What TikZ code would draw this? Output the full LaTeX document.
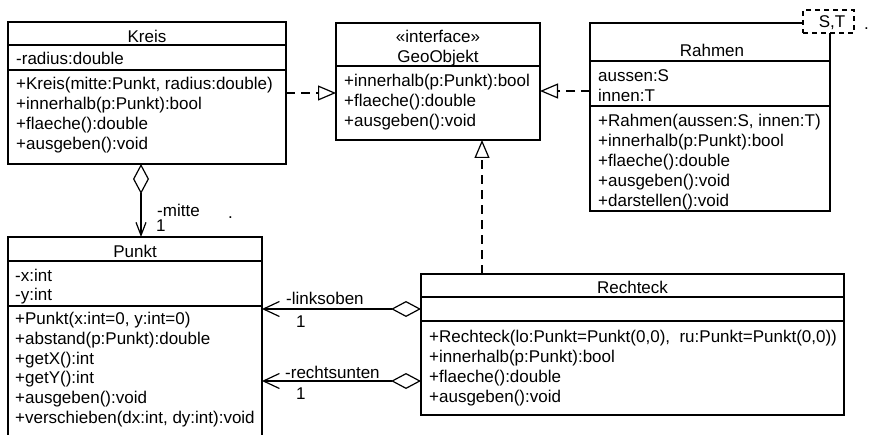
\documentclass[tikz,border=0pt]{standalone}
\usepackage{fontspec}
\setmainfont{Liberation Sans}
\usetikzlibrary{arrows.meta}
\newcommand\fsz{\fontsize{17}{20}\selectfont}
\begin{document}
\begin{tikzpicture}[x=1pt,y=-1pt,
  box/.style={draw, line width=1.2pt, inner sep=0pt, outer sep=0pt, anchor=north west},
  sepline/.style={line width=1.2pt},
  txt/.style={anchor=base west, inner sep=0pt, font=\fsz},
  ttl/.style={anchor=base, inner sep=0pt, font=\fsz},
  real/.style={line width=1.2pt, dash pattern=on 9pt off 6pt, -{Triangle[open,length=18pt,width=15pt]}},
  aggr/.style={line width=1.2pt, {Diamond[open,length=30pt,width=16pt]}-{Straight Barb[length=#1]}},
]
\useasboundingbox (0,0) rectangle (869,435);

% ---------- Kreis ----------
\node[box, minimum width=278pt, minimum height=142pt] (kreis) at (8,22) {};
\draw[sepline] (8,45) -- (286,45);
\draw[sepline] (8,70) -- (286,70);
\node[ttl] (k0) at (147,43) {Kreis};
\node[txt] (k1) at (16,65) {-radius:double};
\node[txt] (k2) at (16,90) {+Kreis(mitte:Punkt, radius:double)};
\node[txt] (k3) at (16,110) {+innerhalb(p:Punkt):bool};
\node[txt] (k4) at (16,130) {+flaeche():double};
\node[txt] (k5) at (16,150) {+ausgeben():void};

% ---------- GeoObjekt ----------
\node[box, minimum width=204pt, minimum height=117pt] (geo) at (336,23) {};
\draw[sepline] (336,66) -- (540,66);
\node[ttl] (g0) at (438,43) {«interface»};
\node[ttl] (g1) at (438,62.5) {GeoObjekt};
\node[txt] (g2) at (344,87) {+innerhalb(p:Punkt):bool};
\node[txt] (g3) at (344,107) {+flaeche():double};
\node[txt] (g4) at (344,127) {+ausgeben():void};

% ---------- Rahmen ----------
\node[box, minimum width=240pt, minimum height=188pt] (rahmen) at (590,23) {};
\draw[sepline] (590,61) -- (830,61);
\draw[sepline] (590,106) -- (830,106);
\node[ttl] (r0) at (712,57) {Rahmen};
\node[txt] (r1) at (598,82) {aussen:S};
\node[txt] (r2) at (598,102) {innen:T};
\node[txt] (r3) at (598,126.5) {+Rahmen(aussen:S, innen:T)};
\node[txt] (r4) at (598,146.5) {+innerhalb(p:Punkt):bool};
\node[txt] (r5) at (598,166.5) {+flaeche():double};
\node[txt] (r6) at (598,186.5) {+ausgeben():void};
\node[txt] (r7) at (598,206.5) {+darstellen():void};
\node[draw, line width=1.2pt, dash pattern=on 5pt off 4pt, fill=white, inner sep=0pt,
      minimum width=51pt, minimum height=23pt] (tpl) at (828.5,21.5) {};
\node[ttl] (tplt) at (832,28) {S,T};
\node[txt] (dot1) at (864,30) {.};

% ---------- Rechteck ----------
\node[box, minimum width=423pt, minimum height=141pt] (rechteck) at (421,274) {};
\draw[sepline] (421,297) -- (844,297);
\draw[sepline] (421,321) -- (844,321);
\node[ttl] (e0) at (632.5,293.5) {Rechteck};
\node[txt] (e1) at (429,342.5) {+Rechteck(lo:Punkt=Punkt(0,0),\ \ ru:Punkt=Punkt(0,0))};
\node[txt] (e2) at (429,362.5) {+innerhalb(p:Punkt):bool};
\node[txt] (e3) at (429,382.5) {+flaeche():double};
\node[txt] (e4) at (429,402.5) {+ausgeben():void};

% ---------- Punkt ----------
\node[box, minimum width=254pt, minimum height=203pt] (punkt) at (8,237) {};
\draw[sepline] (8,261) -- (262,261);
\draw[sepline] (8,306) -- (262,306);
\node[ttl] (p0) at (135,258) {Punkt};
\node[txt] (p1) at (15,282) {-x:int};
\node[txt] (p2) at (15,301) {-y:int};
\node[txt] (p3) at (15,324) {+Punkt(x:int=0, y:int=0)};
\node[txt] (p4) at (15,344) {+abstand(p:Punkt):double};
\node[txt] (p5) at (15,364) {+getX():int};
\node[txt] (p6) at (15,383.5) {+getY():int};
\node[txt] (p7) at (15,403) {+ausgeben():void};
\node[txt] (p8) at (15,423) {+verschieben(dx:int, dy:int):void};

% ---------- connectors ----------
\coordinate (xg) at (482,0);
\coordinate (yr) at (0,91);
\coordinate (xm) at (141,0);
\coordinate (ylo) at (0,309);
\coordinate (yru) at (0,381);
\draw[real] (kreis.east) -- (kreis.east -| geo.west);
\draw[real] (rahmen.west |- yr) -- (geo.east |- yr);
\draw[real] (rechteck.north -| xg) -- (geo.south -| xg);
\draw[aggr={13pt,width=10pt}] (kreis.south -| xm) -- (punkt.north -| xm);
\draw[aggr={16pt,width=15pt}] (rechteck.west |- ylo) -- (punkt.east |- ylo);
\draw[aggr={16pt,width=15pt}] (rechteck.west |- yru) -- (punkt.east |- yru);

% ---------- labels ----------
\node[txt] (lm) at (157,216.5) {-mitte};
\node[txt] (lm1) at (156,232) {1};
\node[txt] (dot2) at (228,219) {.};
\node[txt] (llo) at (286,305) {-linksoben};
\node[txt] (llo1) at (296,327) {1};
\node[txt] (lru) at (285,378) {-rechtsunten};
\node[txt] (lru1) at (296,399) {1};
\end{tikzpicture}
\end{document}
